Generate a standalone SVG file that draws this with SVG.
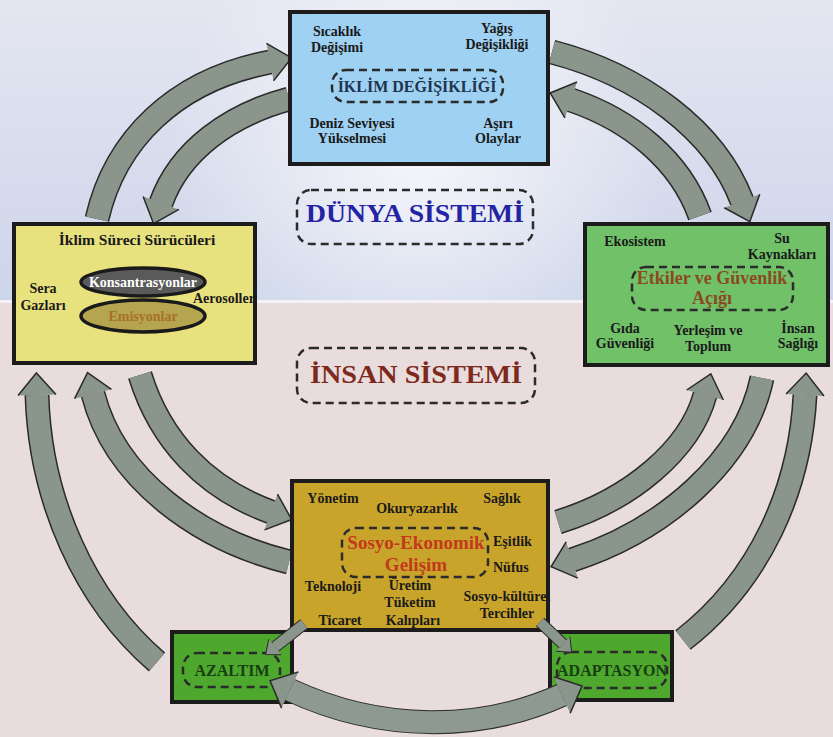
<svg xmlns="http://www.w3.org/2000/svg" width="833" height="737" viewBox="0 0 833 737">
<defs>
<linearGradient id="bgTop" x1="0" y1="0" x2="0" y2="1">
<stop offset="0" stop-color="#e4e6f1"/>
<stop offset="1" stop-color="#cdd5ea"/>
</linearGradient>
<radialGradient id="glow" cx="420" cy="150" r="250" gradientUnits="userSpaceOnUse">
<stop offset="0" stop-color="#ffffff" stop-opacity="0.75"/>
<stop offset="0.6" stop-color="#ffffff" stop-opacity="0.3"/>
<stop offset="1" stop-color="#ffffff" stop-opacity="0"/>
</radialGradient>
<marker id="ah" markerUnits="userSpaceOnUse" viewBox="0 0 24 40" markerWidth="24" markerHeight="40" refX="1" refY="20" orient="auto" overflow="visible">
<path d="M1,1 L23,20 L1,39" fill="#8a958c" stroke="#2a2a2a" stroke-width="1.5"/>
</marker>
<marker id="ahs" markerUnits="userSpaceOnUse" viewBox="0 0 14 22" markerWidth="14" markerHeight="22" refX="1" refY="11" orient="auto-start-reverse" overflow="visible">
<path d="M1,1 L13,11 L1,21" fill="#8a958c" stroke="#2a2a2a" stroke-width="1"/>
</marker>
<marker id="ahd" markerUnits="userSpaceOnUse" viewBox="0 0 24 42" markerWidth="24" markerHeight="42" refX="1" refY="21" orient="auto-start-reverse" overflow="visible">
<path d="M1,1 L23,21 L1,41" fill="#8a958c" stroke="#2a2a2a" stroke-width="1.5"/>
</marker>
</defs>
<style>
.box{stroke:#1c1c1c;stroke-width:4}
.dash{fill:none;stroke:#2b2b2b;stroke-width:2.5;stroke-dasharray:8 5}
.t{font-family:"Liberation Serif","Times New Roman",serif;font-weight:bold;font-size:14px;fill:#1a1a1a;text-anchor:middle}
.under{fill:none;stroke:#2a2a2a;stroke-width:25}
.body{fill:none;stroke:#8a958c;stroke-width:22}
</style>

<!-- background -->
<rect x="0" y="0" width="833" height="302" fill="url(#bgTop)"/>
<rect x="0" y="0" width="833" height="302" fill="url(#glow)"/>
<rect x="0" y="302" width="833" height="435" fill="#e8dcdc"/>
<rect x="0" y="300" width="833" height="3" fill="#f4f2f6"/>

<!-- connectors -->
<g id="connectors">
<g>
<path class="under" d="M 97 219 C 115 140, 175 80, 270 62"/>
<path class="body" d="M 97 219 C 115 140, 175 80, 270 62" marker-end="url(#ah)"/>
</g>
<g>
<path class="under" d="M 289 99 C 230 115, 180 150, 161 203"/>
<path class="body" d="M 289 99 C 230 115, 180 150, 161 203" marker-end="url(#ah)"/>
</g>
<g>
<path class="under" d="M 552 52 C 640 75, 715 130, 742 201"/>
<path class="body" d="M 552 52 C 640 75, 715 130, 742 201" marker-end="url(#ah)"/>
</g>
<g>
<path class="under" d="M 700 216 C 680 160, 630 120, 571 100"/>
<path class="body" d="M 700 216 C 680 160, 630 120, 571 100" marker-end="url(#ah)"/>
</g>
<g>
<path class="under" d="M 157 662 C 85 600, 40 500, 37 395"/>
<path class="body" d="M 157 662 C 85 600, 40 500, 37 395" marker-end="url(#ah)"/>
</g>
<g>
<path class="under" d="M 289 562 C 200 540, 115 480, 93 394"/>
<path class="body" d="M 289 562 C 200 540, 115 480, 93 394" marker-end="url(#ah)"/>
</g>
<g>
<path class="under" d="M 140 375 C 160 440, 205 488, 271 512"/>
<path class="body" d="M 140 375 C 160 440, 205 488, 271 512" marker-end="url(#ah)"/>
</g>
<g>
<path class="under" d="M 558 522 C 630 500, 690 450, 705 395"/>
<path class="body" d="M 558 522 C 630 500, 690 450, 705 395" marker-end="url(#ah)"/>
</g>
<g>
<path class="under" d="M 762 378 C 745 460, 665 530, 572 560"/>
<path class="body" d="M 762 378 C 745 460, 665 530, 572 560" marker-end="url(#ah)"/>
</g>
<g>
<path class="under" d="M 683 640 C 760 580, 800 490, 805 395"/>
<path class="body" d="M 683 640 C 760 580, 800 490, 805 395" marker-end="url(#ah)"/>
</g>
</g>

<!-- nodes -->
<g id="iklim-degisikligi">
<rect class="box" x="290" y="12" width="258" height="152" fill="#9fd1f3"/>
<text class="t" x="337" y="36">Sıcaklık</text>
<text class="t" x="337" y="52">Değişimi</text>
<text class="t" x="497" y="33">Yağış</text>
<text class="t" x="497" y="49">Değişikliği</text>
<rect class="dash" x="332" y="70" width="171" height="32" rx="14"/>
<text class="t" x="417" y="92" style="font-size:16px;fill:#22344e">İKLİM DEĞİŞİKLİĞİ</text>
<text class="t" x="352" y="128">Deniz Seviyesi</text>
<text class="t" x="352" y="143">Yükselmesi</text>
<text class="t" x="498" y="128">Aşırı</text>
<text class="t" x="498" y="143">Olaylar</text>
</g>

<g id="dunya-sistemi">
<rect class="dash" x="297" y="190" width="236" height="54" rx="14"/>
<text class="t" x="415" y="222" textLength="218" lengthAdjust="spacingAndGlyphs" style="font-size:26px;fill:#2323a3">DÜNYA SİSTEMİ</text>
</g>

<g id="insan-sistemi">
<rect class="dash" x="297" y="348" width="238" height="55" rx="14"/>
<text class="t" x="416" y="383" textLength="212" lengthAdjust="spacingAndGlyphs" style="font-size:26px;fill:#7d2a1c">İNSAN SİSTEMİ</text>
</g>

<g id="iklim-sureci-suruculeri">
<rect class="box" x="14" y="224" width="241" height="139" fill="#e8e27e"/>
<text class="t" x="137" y="245" style="font-size:15.5px">İklim Süreci Sürücüleri</text>
<text class="t" x="43" y="293">Sera</text>
<text class="t" x="43" y="310">Gazları</text>
<ellipse cx="143" cy="316" rx="62" ry="16" fill="#b4a54e" stroke="#1a1a1a" stroke-width="3.5"/>
<ellipse cx="143" cy="282" rx="62" ry="14" fill="#5a5a5a" stroke="#1a1a1a" stroke-width="3.5"/>
<text class="t" x="143" y="287" style="fill:#ffffff">Konsantrasyonlar</text>
<text class="t" x="143" y="321" style="fill:#a8702c">Emisyonlar</text>
<text class="t" x="193" y="303" style="text-anchor:start">Aerosoller</text>
</g>

<g id="etkiler">
<rect class="box" x="585" y="224" width="243" height="141" fill="#70c168"/>
<text class="t" x="635" y="246">Ekosistem</text>
<text class="t" x="782" y="243">Su</text>
<text class="t" x="782" y="259">Kaynakları</text>
<rect class="dash" x="632" y="267" width="161" height="43" rx="14"/>
<text class="t" x="712" y="284" style="font-size:18px;fill:#8a4a1f">Etkiler ve Güvenlik</text>
<text class="t" x="712" y="304" style="font-size:18px;fill:#8a4a1f">Açığı</text>
<text class="t" x="625" y="333">Gıda</text>
<text class="t" x="625" y="348">Güvenliği</text>
<text class="t" x="708" y="335">Yerleşim ve</text>
<text class="t" x="708" y="351">Toplum</text>
<text class="t" x="798" y="333">İnsan</text>
<text class="t" x="798" y="348">Sağlığı</text>
</g>

<g id="sosyo-ekonomik">
<rect class="box" x="292" y="481" width="256" height="149" fill="#c9a42b"/>
<text class="t" x="333" y="503">Yönetim</text>
<text class="t" x="417" y="513">Okuryazarlık</text>
<text class="t" x="502" y="503">Sağlık</text>
<rect class="dash" x="342" y="528" width="146" height="49" rx="14"/>
<text class="t" x="416" y="549" style="font-size:19px;fill:#c23a1b">Sosyo-Ekonomik</text>
<text class="t" x="416" y="571" style="font-size:19px;fill:#c23a1b">Gelişim</text>
<text class="t" x="493" y="546" style="text-anchor:start">Eşitlik</text>
<text class="t" x="493" y="572" style="text-anchor:start">Nüfus</text>
<text class="t" x="333" y="591">Teknoloji</text>
<text class="t" x="410" y="590">Üretim</text>
<text class="t" x="410" y="607">Tüketim</text>
<text class="t" x="413" y="625">Kalıpları</text>
<text class="t" x="340" y="625">Ticaret</text>
<text class="t" x="507" y="601">Sosyo-kültürel</text>
<text class="t" x="507" y="618">Tercihler</text>
</g>

<g id="azaltim">
<rect class="box" x="172" y="632" width="120" height="70" fill="#4ea82d"/>
<rect class="dash" x="183" y="653" width="97" height="34" rx="14"/>
<text class="t" x="232" y="676" style="font-size:16px;fill:#173d12">AZALTIM</text>
</g>

<g id="adaptasyon">
<rect class="box" x="550" y="632" width="122" height="68" fill="#4ea82d"/>
<rect class="dash" x="557" y="652" width="110" height="36" rx="14"/>
<text class="t" x="612" y="676" style="font-size:16px;fill:#173d12">ADAPTASYON</text>
</g>

<!-- small connectors over boxes -->
<g id="connectors-small">
<path d="M 304 624 L 275 647" fill="none" stroke="#2a2a2a" stroke-width="12"/>
<path d="M 304 624 L 275 647" fill="none" stroke="#8a958c" stroke-width="10" marker-end="url(#ahs)"/>
<path d="M 540 622 L 563 644" fill="none" stroke="#2a2a2a" stroke-width="12"/>
<path d="M 540 622 L 563 644" fill="none" stroke="#8a958c" stroke-width="10" marker-end="url(#ahs)"/>
<path d="M 290 690 C 380 732, 480 732, 562 695" fill="none" stroke="#2a2a2a" stroke-width="24"/>
<path d="M 290 690 C 380 732, 480 732, 562 695" fill="none" stroke="#8e9a91" stroke-width="22" marker-start="url(#ahd)" marker-end="url(#ahd)"/>
</g>
</svg>
